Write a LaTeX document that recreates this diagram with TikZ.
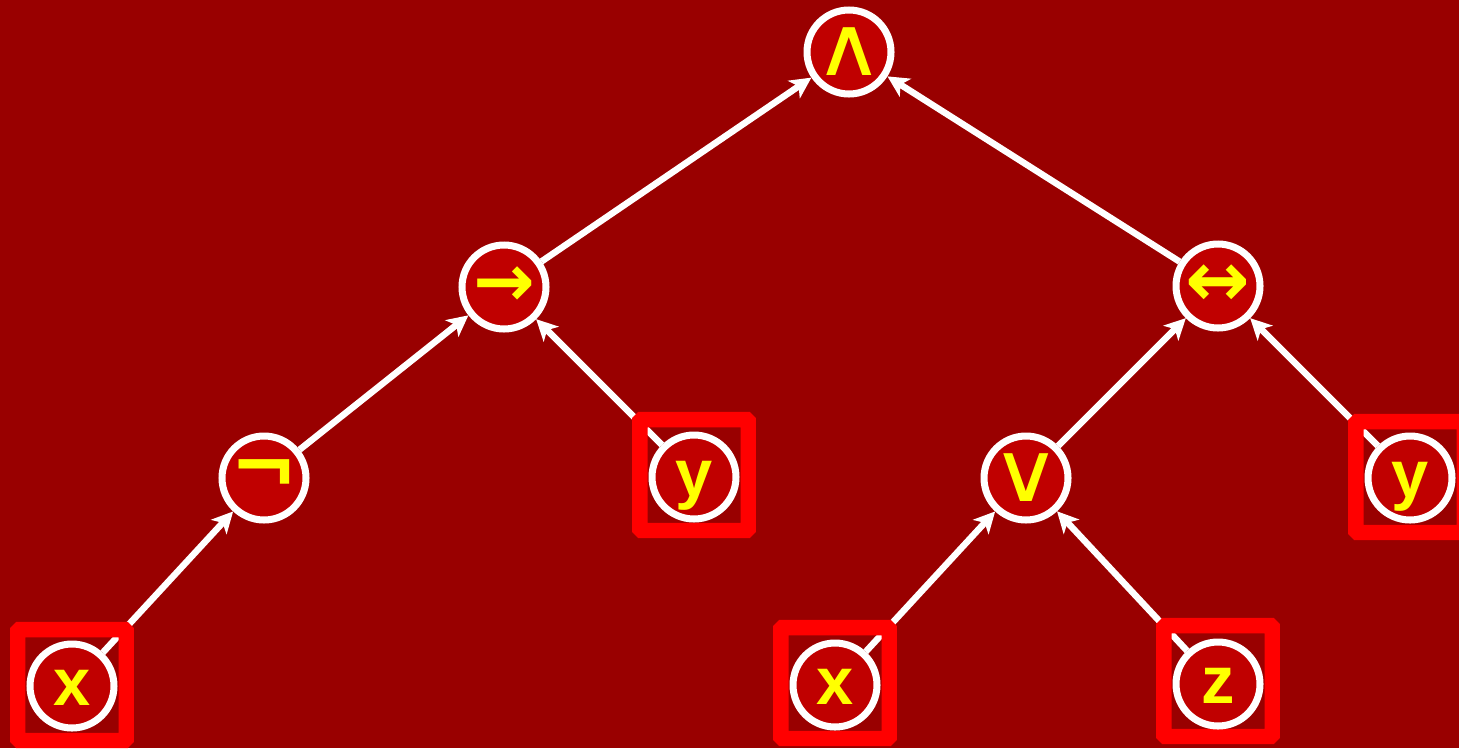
\documentclass[tikz,border=0pt]{standalone}
\usepackage{fontspec}
\usepackage{graphicx}
\setmainfont{Liberation Sans}
\newfontfamily\symfont{DejaVu Sans}
\usetikzlibrary{arrows.meta}
\definecolor{bgred}{HTML}{990000}
\definecolor{nodered}{HTML}{C00000}
\definecolor{boxred}{HTML}{FF0000}
\definecolor{labelyellow}{HTML}{FFFF00}
\pgfdeclarelayer{edgelayer}
\pgfdeclarelayer{boxlayer}
\pgfsetlayers{edgelayer,boxlayer,main}
\newcommand\symsize[1]{\symfont\bfseries\fontsize{#1}{#1}\selectfont}
% widened wedge glyphs, kept from enlarging the circle
\newcommand\widesym[1]{\makebox[0pt]{\scalebox{1.15}[1]{\symfont\mdseries\fontsize{47}{47}\selectfont#1}}}
\tikzset{
  treenode/.style={circle, draw=white, line width=4pt, fill=nodered,
    minimum size=1.68cm, inner sep=0pt, text=labelyellow},
  opnode/.style={treenode, font=\symsize{44}},
  varnode/.style={treenode, font=\bfseries\fontsize{38}{38}\selectfont,
    text height=0.76cm, text depth=0pt},
  leafbox/.style={draw=boxred, line width=8.8pt, rounded corners=1pt,
    minimum width=2.17cm, minimum height=2.22cm, inner sep=0pt},
  treeedge/.style={draw=white, line width=3.7pt,
    -{Stealth[length=12pt,width=12pt,inset=3.2pt]}}
}
\begin{document}
\begin{tikzpicture}[x=0.02cm, y=-0.02cm]
  \useasboundingbox (0,0) rectangle (1459,748);

  % operator nodes
  \node[opnode] (and) at (849,52) {\widesym{∧}};
  \node[opnode, font=\symsize{42}] (imp) at (504,287) {→};
  \node[opnode] (iff) at (1218,286) {↔};
  \node[opnode, font=\symsize{46}] (neg) at (264,478) {¬};
  \node[opnode] (or) at (1026,478) {\widesym{∨}};

  % variable leaves
  \node[varnode] (y1) at (694,477)  {y};
  \node[varnode] (y2) at (1410,478) {y};
  \node[varnode] (x1) at (72,686)   {x};
  \node[varnode] (x2) at (835,685)  {x};
  \node[varnode] (z)  at (1218,684) {z};

  % frames around the leaves
  \begin{pgfonlayer}{boxlayer}
    \node[leafbox] (by1) at (694,475)  {};
    \node[leafbox] (by2) at (1410,477) {};
    \node[leafbox] (bx1) at (72,685)   {};
    \node[leafbox] (bx2) at (835,683)  {};
    \node[leafbox] (bz)  at (1218,681) {};
  \end{pgfonlayer}

  % background and connectors
  \begin{pgfonlayer}{edgelayer}
    \fill[bgred] (0,0) rectangle (1459,748);
    \draw[treeedge] (x1) -- (neg);
    \draw[treeedge] (neg) -- (imp);
    \draw[treeedge] (y1) -- (imp);
    \draw[treeedge] (imp) -- (and);
    \draw[treeedge] (x2) -- (or);
    \draw[treeedge] (z) -- (or);
    \draw[treeedge] (or) -- (iff);
    \draw[treeedge] (y2) -- (iff);
    \draw[treeedge] (iff) -- (and);
  \end{pgfonlayer}
\end{tikzpicture}
\end{document}
